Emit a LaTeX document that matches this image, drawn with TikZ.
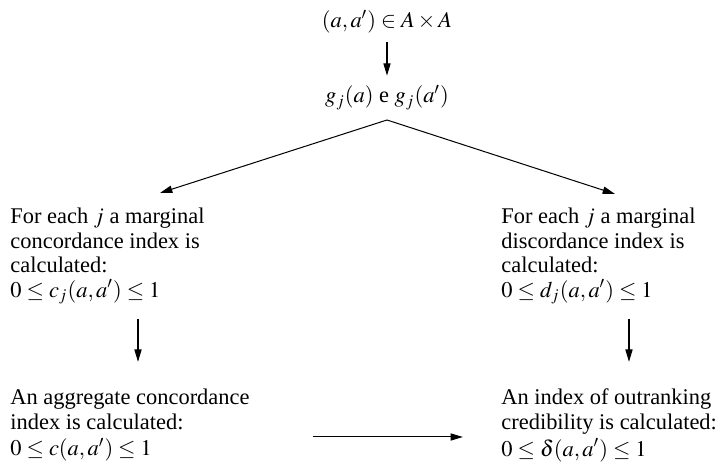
\documentclass[tikz,border=0pt]{standalone}
\usepackage{mathptmx}
\usepackage[no-math]{fontspec}
\setmainfont{Liberation Serif}
\usetikzlibrary{arrows.meta,positioning,calc}

\begin{document}
\begin{tikzpicture}[
    x=0.446pt, y=-0.446pt,
    tx/.style={inner sep=0pt, align=left, anchor=north west, font=\fontsize{10}{10.9}\selectfont},
    hd/.style={anchor=base, font=\fontsize{10}{10.9}\selectfont},
    arr/.style={-{Triangle[length=5.5pt,width=3.2pt]}, line width=0.45pt}
  ]
    \useasboundingbox (0,0) rectangle (719,469);
    % ---- top: pair and criteria values ----
    \node[hd] (pair) at (387,28) {$(a,a')\in A\times A$};
    \node[hd] (g) at (387,103) {$g_j(a)$ e $g_j(a')$};
    \draw[arr, shorten >=1pt] (pair) -- (g);
    \coordinate (apex) at (387,120);
    \coordinate (ltip) at (160,193);
    \coordinate (rtip) at (615,194);
    \draw[arr] (apex) -- (ltip);
    \draw[arr] (apex) -- (rtip);
    % ---- marginal indices ----
    \node[tx] (conc) at (10,207.7)
      {For each $j$ a marginal\\concordance index is\\calculated:\\$0\le c_j(a,a')\le 1$};
    \node[tx] (disc) at (501,207.7)
      {For each $j$ a marginal\\discordance index is\\calculated:\\$0\le d_j(a,a')\le 1$};
    % ---- aggregate and credibility ----
    \node[tx] (aggr) at (10,388.7)
      {An aggregate concordance\\index is calculated:\\[1pt]$0\le c(a,a')\le 1$};
    \node[tx] (cred) at (501,388.7)
      {An index of outranking\\credibility is calculated:\\[1pt]$0\le \delta(a,a')\le 1$};
    % ---- arrows ----
    \coordinate (dl) at (138,0);
    \coordinate (dr) at (629,0);
    \coordinate (mid) at (0,437);
    \draw[arr, shorten <=6.5pt, shorten >=12pt] (conc.south -| dl) -- (aggr.north -| dl);
    \draw[arr, shorten <=6.5pt, shorten >=12pt] (disc.south -| dr) -- (cred.north -| dr);
    \draw[arr, shorten <=28pt, shorten >=17pt] (aggr.east |- mid) -- (cred.west |- mid);
\end{tikzpicture}
\end{document}
